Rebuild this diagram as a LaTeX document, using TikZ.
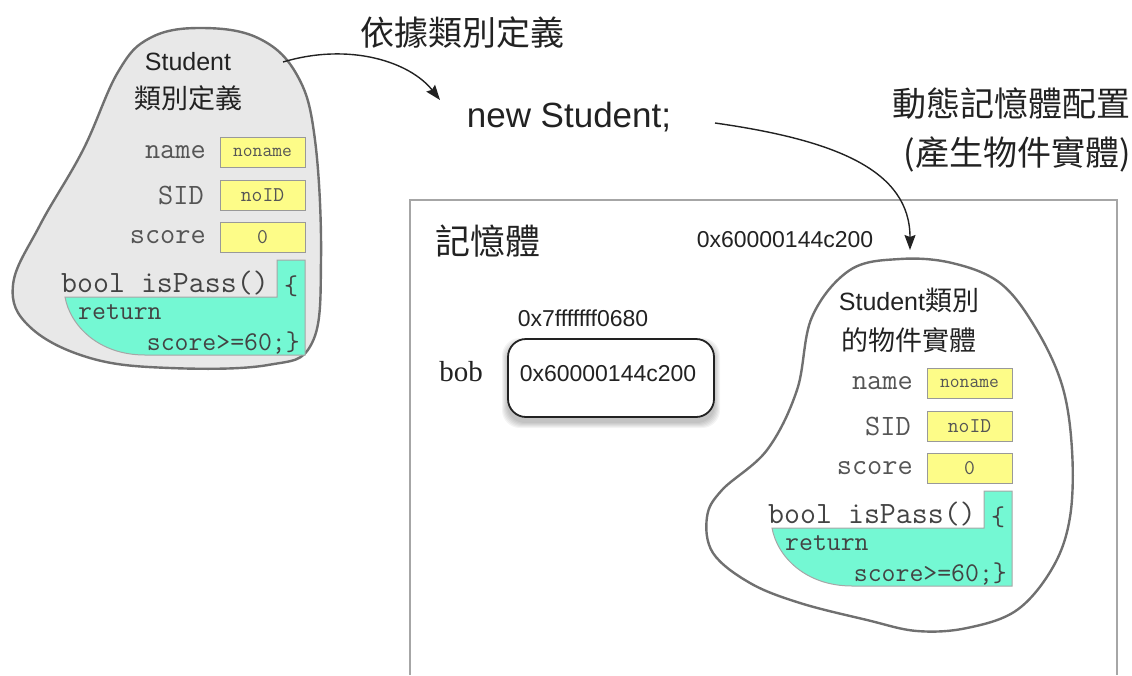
\documentclass[tikz,border=0pt]{standalone}
\usepackage{fontspec}
\setmainfont{Liberation Sans}
\newfontfamily\cjk{Noto Sans CJK TC}
\newcommand{\monof}{\ttfamily}
\newfontfamily\seriff{Liberation Serif}
\usetikzlibrary{arrows.meta,calc}
\definecolor{blobgray}{HTML}{E8E8E8}
\definecolor{blobline}{HTML}{707070}
\definecolor{ylw}{HTML}{FDFC88}
\definecolor{grn}{HTML}{74F8D3}
\definecolor{txt}{HTML}{222222}
\definecolor{mtxt}{HTML}{555555}
\newcommand{\fs}[1]{\fontsize{#1}{#1}\selectfont}
\tikzset{
  blob/.style={draw=blobline, line width=2.4pt},
  lbl/.style={inner sep=0pt, text=mtxt, font=\monof\fs{29.5}},
  ybox/.style={draw=gray!80, fill=ylw, line width=1pt, minimum width=85pt, minimum height=30pt, inner sep=0pt, text=mtxt},
  gshape/.style={draw=gray!70, fill=grn, line width=1pt},
  code/.style={inner sep=0pt, text=txt!85, font=\monof\fs{31}},
  code2/.style={inner sep=0pt, text=txt!85, font=\monof\fs{27}},
  conn/.style={draw=txt, line width=1.4pt, -{Stealth[length=15pt,width=11pt,inset=2pt]}},
  big/.style={inner sep=0pt, text=txt, font=\cjk\fs{34}},
  addr/.style={inner sep=0pt, text=txt, font=\fs{23}},
}
\newcommand{\objcontent}[1]{%
  \node[lbl, anchor=east] (#1lname) at (206,152) {name};
  \node[lbl, anchor=east] (#1lsid) at (204,195) {SID};
  \node[lbl, anchor=east] (#1lscore) at (206,237) {score};
  \node[ybox, font=\monof\fs{19}] (#1bname) at (262.5,152) {noname};
  \node[ybox, font=\monof\fs{21}] (#1bsid) at (262.5,195) {noID};
  \node[ybox, font=\monof\fs{21}] (#1bscore) at (262.5,237) {0};
  \draw[gshape] (65,297) -- (277,297) -- (277,260) -- (305,260) -- (305,355) -- (145,355)
     .. controls (98,355) and (70,325) .. (65,297) -- cycle;
  \node[code, anchor=west] (#1bool) at (61,283) {bool isPass()};
  \node[code2] (#1brace) at (291,286) {\{};
  \node[code2, anchor=west] (#1ret) at (78,312) {return};
  \node[code2, anchor=east] (#1score) at (300,343) {score>=60;\}};
}
\begin{document}
\begin{tikzpicture}[x=1pt,y=-1pt]
\useasboundingbox (0,0) rectangle (1132,675);
% left blob
\draw[blob, fill=blobgray] plot[smooth cycle, tension=0.65] coordinates {
 (200,28) (258,38) (297,75) (315,140) (321,260) (312,343) (268,365) (170,368)
 (90,358) (30,327) (13,285) (40,225) (83,150) (118,72) (150,38)};
\node[inner sep=0pt, text=txt, font=\fs{25}] (ltitle) at (188,62) {Student};
\node[inner sep=0pt, text=txt, font=\cjk\fs{27}] (ltitle2) at (188,98) {類別定義};
\begin{scope}
\objcontent{l}
\end{scope}
% top labels
\node[big] (according) at (462,33) {依據類別定義};
\node[inner sep=0pt, text=txt, font=\fs{35}] (new) at (569,117) {new Student;};
\node[big, anchor=east] (dyn1) at (1131,104) {動態記憶體配置};
\node[big, anchor=east] (dyn2) at (1131,154) {(產生物件實體)};
% memory frame
\draw[draw=gray!70, line width=1.3pt] (410,675) -- (410,200) -- (1117,200) -- (1117,675);
\node[inner sep=0pt, text=txt, font=\cjk\fs{35}] (mem) at (488,241) {記憶體};
\node[addr] (addrtop) at (785,240) {0x60000144c200};
\node[addr] (addrbob) at (583,318) {0x7fffffff0680};
\node[inner sep=0pt, text=txt, font=\seriff\fs{29}] (bob) at (461,372) {bob};
\foreach \i in {1,...,6}{
  \fill[black, opacity=0.045, rounded corners=18pt]
    ($(611,383)+(-103-\i,-39-\i)$) rectangle ($(611,383)+(103+\i,39+\i)$);
}
\node[draw=txt, line width=1.8pt, rounded corners=18pt, fill=white,
      minimum width=206pt, minimum height=78pt, inner sep=0pt] (bobbox) at (611,378) {};
\node[addr] (bobval) at (608,374) {0x60000144c200};
% right blob
\draw[blob] plot[smooth cycle, tension=0.6] coordinates {
 (900,259) (952,263) (1000,283) (1035,327) (1062,385) (1072,450) (1070,517)
 (1053,567) (1017,610) (967,628) (917,631) (867,620) (800,603) (750,583)
 (713,553) (707,517) (722,490) (767,450) (797,390) (812,317) (850,270)};
\node[inner sep=0pt, text=txt, font=\fs{25}] (rtitle) at (909,300) {Student{\cjk\fs{27}類別}};
\node[inner sep=0pt, text=txt, font=\cjk\fs{27}] (rtitle2) at (909,340) {的物件實體};
\begin{scope}[shift={(707,231)}]
\objcontent{r}
\end{scope}
% connectors
\coordinate (a1s) at (283,62);
\coordinate (a1e) at (440,100);
\draw[conn] (a1s) .. controls (350,42) and (410,62) .. (a1e);
\coordinate (a2s) at (715,123);
\coordinate (a2e) at (910,250);
\draw[conn] (a2s) .. controls (835,140) and (910,170) .. (a2e);
\end{tikzpicture}
\end{document}
